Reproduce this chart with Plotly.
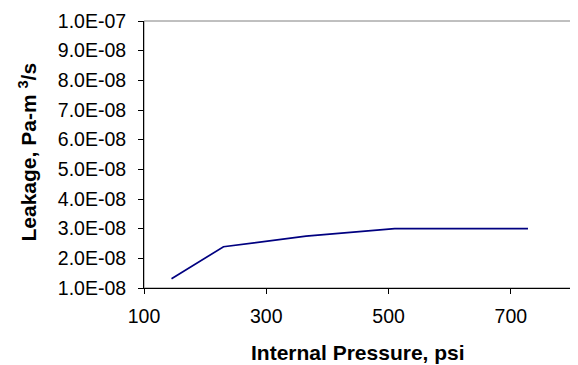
import plotly.graph_objects as go

pressure_psi = [145, 230, 365, 510, 728]
leakage = [1.31e-8, 2.39e-8, 2.75e-8, 3.0e-8, 3.0e-8]

y_tick_vals = [1e-8, 2e-8, 3e-8, 4e-8, 5e-8, 6e-8, 7e-8, 8e-8, 9e-8, 1e-7]
y_tick_text = ["1.0E-08", "2.0E-08", "3.0E-08", "4.0E-08", "5.0E-08",
               "6.0E-08", "7.0E-08", "8.0E-08", "9.0E-08", "1.0E-07"]
x_tick_vals = [100, 300, 500, 700]

x_title = "<b>Internal Pressure, psi</b>"
y_title = "<b>Leakage, Pa-m <sup>3</sup>/s</b>"

fig = go.Figure()
fig.add_trace(go.Scatter(x=pressure_psi, y=leakage, mode="lines",
                         line=dict(color="#000080", width=1.7)))

font = "Arial, 'Liberation Sans', sans-serif"
# page body has an 8px default margin, so the figure is 8px smaller and shifted
fig.update_layout(
    width=570, height=357,
    margin=dict(l=136, r=6, t=13, b=77, autoexpand=False),
    paper_bgcolor="white", plot_bgcolor="white",
    showlegend=False,
    font=dict(family=font, color="black", size=19),
    xaxis=dict(range=[100, 800], tickvals=x_tick_vals, ticks="outside", ticklen=5,
               tickcolor="black", showline=True, linecolor="black", linewidth=1,
               showgrid=False, zeroline=False, ticklabelstandoff=6, automargin=False,
               tickfont=dict(size=19.5)),
    yaxis=dict(range=[1e-8, 1e-7], tickvals=y_tick_vals, ticktext=y_tick_text,
               ticks="outside", ticklen=5, tickcolor="black", showline=True,
               linecolor="black", linewidth=1, showgrid=False, zeroline=False,
               ticklabelstandoff=8, automargin=False, tickfont=dict(size=19.5)),
)
fig.add_shape(type="rect", xref="paper", yref="paper", x0=0, y0=0, x1=1, y1=1,
              line=dict(color="#808080", width=1), layer="below")
fig.add_annotation(text=x_title, xref="paper", yref="paper", x=0.5, y=0,
                   xanchor="center", yanchor="middle", yshift=-64, showarrow=False,
                   font=dict(size=21))
fig.add_annotation(text=y_title, xref="paper", yref="paper", x=0, y=0.5,
                   xanchor="center", yanchor="middle", xshift=-117, yshift=2,
                   textangle=-90, showarrow=False, font=dict(size=21))
fig.write_html("out.html")
